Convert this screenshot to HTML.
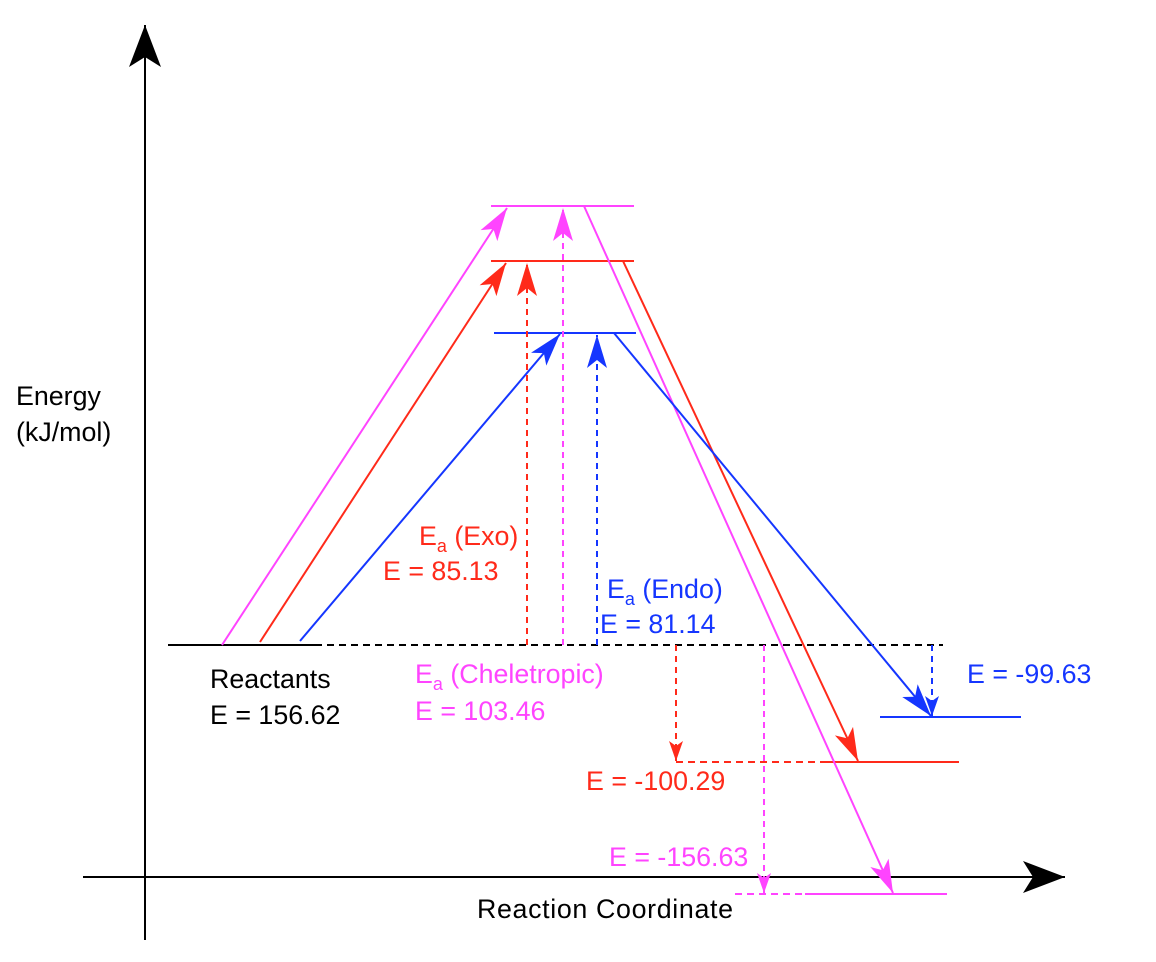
<!DOCTYPE html>
<html><head><meta charset="utf-8"><style>
html,body{margin:0;padding:0;background:#fff}
svg{display:block}
text{font-family:"Liberation Sans",Arial,sans-serif;font-size:26.8px}
</style></head><body>
<svg width="1156" height="962" viewBox="0 0 1156 962">
<defs>
<marker id="ak" markerUnits="userSpaceOnUse" markerWidth="50" markerHeight="40" refX="0" refY="0" viewBox="-45 -20 50 40" orient="auto"><path d="M0,0 L-42,-16 L-32,0 L-42,16 Z" fill="#000"/></marker>
<marker id="ap" markerUnits="userSpaceOnUse" markerWidth="40" markerHeight="30" viewBox="-35 -15 40 30" refX="0" refY="0" orient="auto"><path d="M0,0 L-33,-10 L-25,0 L-33,10 Z" fill="#ff44ff"/></marker>
<marker id="ar" markerUnits="userSpaceOnUse" markerWidth="40" markerHeight="30" viewBox="-35 -15 40 30" refX="0" refY="0" orient="auto"><path d="M0,0 L-33,-10 L-25,0 L-33,10 Z" fill="#ff2a1a"/></marker>
<marker id="ab" markerUnits="userSpaceOnUse" markerWidth="40" markerHeight="30" viewBox="-35 -15 40 30" refX="0" refY="0" orient="auto"><path d="M0,0 L-33,-10 L-25,0 L-33,10 Z" fill="#1536ff"/></marker>
<marker id="apd" markerUnits="userSpaceOnUse" markerWidth="30" markerHeight="20" viewBox="-25 -10 30 20" refX="0" refY="0" orient="auto"><path d="M0,0 L-20,-7 L-15,0 L-20,7 Z" fill="#ff44ff"/></marker>
<marker id="ard" markerUnits="userSpaceOnUse" markerWidth="30" markerHeight="20" viewBox="-25 -10 30 20" refX="0" refY="0" orient="auto"><path d="M0,0 L-20,-7 L-15,0 L-20,7 Z" fill="#ff2a1a"/></marker>
<marker id="abd" markerUnits="userSpaceOnUse" markerWidth="30" markerHeight="20" viewBox="-25 -10 30 20" refX="0" refY="0" orient="auto"><path d="M0,0 L-20,-7 L-15,0 L-20,7 Z" fill="#1536ff"/></marker>
</defs>
<g stroke-width="2" fill="none">
<line x1="145" y1="940" x2="145" y2="25" stroke="#000" marker-end="url(#ak)"/>
<line x1="83" y1="877" x2="1065" y2="877" stroke="#000" marker-end="url(#ak)"/>
<line x1="168" y1="645" x2="315" y2="645" stroke="#000"/>
<line x1="315" y1="645" x2="943" y2="645" stroke="#000" stroke-dasharray="7,5"/>
<line x1="491" y1="206" x2="634" y2="206" stroke="#ff44ff"/>
<line x1="491" y1="261" x2="634" y2="261" stroke="#ff2a1a"/>
<line x1="494" y1="333" x2="636" y2="333" stroke="#1536ff"/>
<line x1="880" y1="717" x2="1021" y2="717" stroke="#1536ff"/>
<line x1="676" y1="762" x2="820" y2="762" stroke="#ff2a1a" stroke-dasharray="7,5"/>
<line x1="820" y1="762" x2="959" y2="762" stroke="#ff2a1a"/>
<line x1="735" y1="894" x2="805" y2="894" stroke="#ff44ff" stroke-dasharray="7,5"/>
<line x1="805" y1="894" x2="947" y2="894" stroke="#ff44ff"/>
<line x1="222" y1="645" x2="507" y2="208" stroke="#ff44ff" marker-end="url(#ap)"/>
<line x1="260" y1="642" x2="506" y2="263" stroke="#ff2a1a" marker-end="url(#ar)"/>
<line x1="300" y1="641" x2="560" y2="334" stroke="#1536ff" marker-end="url(#ab)"/>
<line x1="527" y1="645" x2="527" y2="263" stroke="#ff2a1a" stroke-dasharray="6,5" marker-end="url(#ar)"/>
<line x1="563" y1="645" x2="563" y2="208" stroke="#ff44ff" stroke-dasharray="6,5" marker-end="url(#ap)"/>
<line x1="597" y1="645" x2="597" y2="335" stroke="#1536ff" stroke-dasharray="6,5" marker-end="url(#ab)"/>
<line x1="584" y1="206" x2="893" y2="893" stroke="#ff44ff" marker-end="url(#ap)"/>
<line x1="623" y1="261" x2="858" y2="761" stroke="#ff2a1a" marker-end="url(#ar)"/>
<line x1="614" y1="333" x2="931" y2="716" stroke="#1536ff" marker-end="url(#ab)"/>
<line x1="932" y1="645" x2="932" y2="716" stroke="#1536ff" stroke-dasharray="6,5" marker-end="url(#abd)"/>
<line x1="676" y1="645" x2="676" y2="761" stroke="#ff2a1a" stroke-dasharray="6,5" marker-end="url(#ard)"/>
<line x1="764" y1="645" x2="764" y2="893" stroke="#ff44ff" stroke-dasharray="6,5" marker-end="url(#apd)"/>
</g>
<text x="16" y="405" fill="#000">Energy</text>
<text x="16" y="441" fill="#000">(kJ/mol)</text>
<text x="210" y="688" fill="#000">Reactants</text>
<text x="210" y="724" fill="#000">E = 156.62</text>
<text x="419" y="545" fill="#ff2a1a">E<tspan font-size="18" dy="7">a</tspan><tspan dy="-7"> (Exo)</tspan></text>
<text x="383" y="580" fill="#ff2a1a">E = 85.13</text>
<text x="607" y="598" fill="#1536ff">E<tspan font-size="18" dy="7">a</tspan><tspan dy="-7"> (Endo)</tspan></text>
<text x="600" y="633" fill="#1536ff">E = 81.14</text>
<text x="415" y="683" fill="#ff44ff">E<tspan font-size="18" dy="7">a</tspan><tspan dy="-7"> (Cheletropic)</tspan></text>
<text x="415" y="720" fill="#ff44ff">E = 103.46</text>
<text x="967" y="683" fill="#1536ff">E = -99.63</text>
<text x="586" y="790" fill="#ff2a1a">E = -100.29</text>
<text x="609" y="866" fill="#ff44ff">E = -156.63</text>
<text x="477" y="918" fill="#000" textLength="256" lengthAdjust="spacing">Reaction Coordinate</text>
</svg>
</body></html>
